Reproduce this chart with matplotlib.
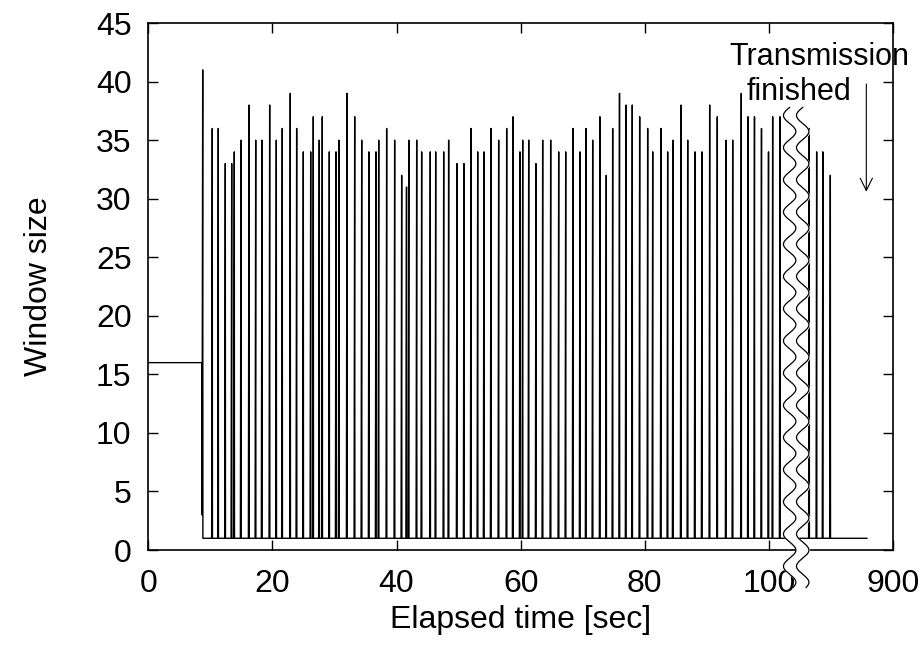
import numpy as np
import matplotlib.pyplot as plt

plt.rcParams['font.family'] = ['Liberation Sans', 'DejaVu Sans']

# congestion window trace (times in sec, window in packets)
init_window = 16
init_end = 8.62
first_dip = 3
floor_window = 1

spike_times = [8.77, 10.31, 11.28, 12.41, 13.44, 13.86, 14.94, 16.23, 17.31, 18.32,
               19.56, 20.63, 21.59, 22.88, 23.91, 24.98, 26.17, 26.59, 27.55, 28.04,
               29.17, 30.25, 30.73, 32.02, 33.26, 34.39, 35.56, 36.69, 37.13, 38.41,
               39.70, 40.83, 41.61, 41.98, 43.25, 44.05, 45.44, 46.31, 47.60, 48.40,
               49.74, 50.87, 52.00, 53.08, 54.09, 55.22, 56.46, 57.75, 58.77, 59.89,
               60.33, 61.30, 62.47, 63.55, 64.84, 66.13, 67.26, 68.43, 69.56, 70.53,
               71.61, 72.78, 73.80, 74.83, 75.93, 76.97, 77.99, 79.18, 80.47, 81.28,
               82.61, 83.69, 84.55, 85.84, 86.92, 88.09, 89.22, 90.46, 91.69, 93.09,
               94.17, 95.55, 96.66, 97.68, 98.81, 99.94, 100.61, 101.79,
               886.5, 887.7, 888.7, 889.9]
spike_peaks = [41, 36, 36, 33, 33, 34, 35, 38, 35, 35,
               38, 35, 36, 39, 36, 34, 34, 37, 35, 37,
               34, 34, 35, 39, 37, 35, 34, 34, 35, 36,
               35, 32, 31, 35, 35, 34, 34, 34, 34, 35,
               33, 33, 36, 34, 34, 36, 35, 36, 37, 34,
               35, 35, 33, 35, 35, 34, 34, 36, 34, 36,
               35, 37, 32, 36, 39, 38, 38, 37, 36, 34,
               36, 34, 35, 38, 35, 34, 34, 38, 37, 35,
               35, 39, 37, 37, 36, 34, 37, 37,
               36, 34, 34, 32]
end_time = 895.8
finish_time = 895.7

x_ticks = [0, 20, 40, 60, 80, 100, 900]
y_ticks = [0, 5, 10, 15, 20, 25, 30, 35, 40, 45]

# broken time axis: everything after the break is shifted left
break_at = 104.4
break_shift = 780


def to_axis(t):
    t = np.asarray(t, dtype=float)
    return np.where(t < break_at, t, t - break_shift)


xs = [0, init_end, init_end + 0.04]
ys = [init_window, init_window, first_dip]
for i, (t, p) in enumerate(zip(spike_times, spike_peaks)):
    if i > 0:
        xs.append(t - 0.1)
        ys.append(floor_window)
    xs += [t, t + 0.03]
    ys += [p, floor_window]
xs.append(end_time)
ys.append(floor_window)

fig = plt.figure(figsize=(9.21, 6.59), dpi=100)
ax = fig.add_axes([0.161, 0.1654, 0.8086, 0.7996])

ax.plot(to_axis(xs), ys, color='black', lw=1.0)

ax.set_xlim(0, 120)
ax.set_ylim(0, 45)
ax.set_xticks(to_axis(x_ticks))
ax.set_xticklabels([str(v) for v in x_ticks])
ax.set_yticks(y_ticks)
ax.tick_params(direction='in', length=7, width=1, labelsize=23,
               top=True, right=True)
ax.tick_params(axis='x', pad=14)
ax.tick_params(axis='y', pad=12)
for s in ax.spines.values():
    s.set_linewidth(1.2)
ax.set_xlabel('Elapsed time [sec]', fontsize=23, labelpad=4)
ax.set_ylabel('Window size', fontsize=23, labelpad=30)

# wavy break marks
yy = np.linspace(-3.2, 37.8, 600)
wave = 1.0 * np.sin(2 * np.pi * (yy - 37.8) / 2.75)
xl = break_at - 1.05 + wave
xr = break_at + 1.05 + wave
ax.fill_betweenx(yy, xl, xr, color='white', zorder=5, clip_on=False)
ax.plot(xl, yy, color='black', lw=0.9, zorder=6, clip_on=False)
ax.plot(xr, yy, color='black', lw=0.9, zorder=6, clip_on=False)

# annotation
fx = float(to_axis(finish_time))
ax.text(122.6, 42.1, 'Transmission', fontsize=22, ha='right', va='center')
ax.text(113.3, 39.1, 'finished', fontsize=22, ha='right', va='center')
ax.annotate('', xy=(fx, 30.6), xytext=(fx, 39.8),
            arrowprops=dict(arrowstyle='->', color='black', lw=0.8,
                            mutation_scale=22, shrinkA=0, shrinkB=0))

fig.savefig('out.png', dpi=100)
